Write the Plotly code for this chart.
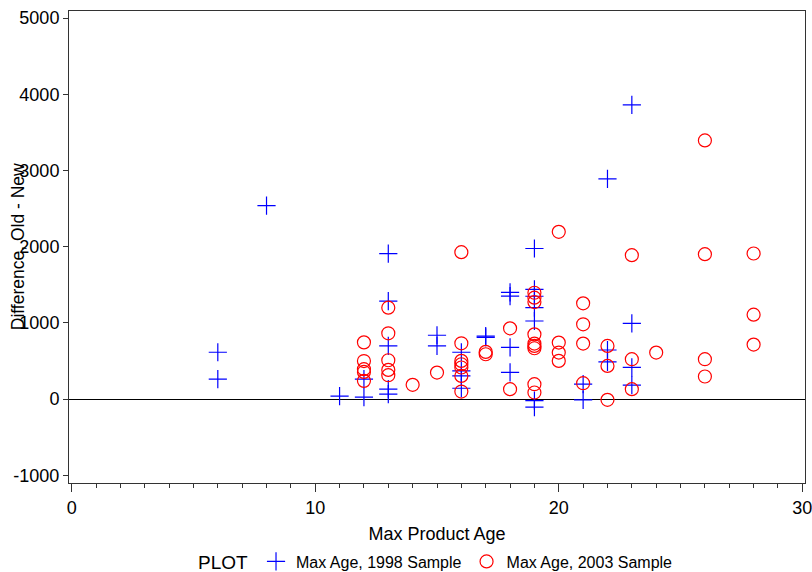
import plotly.graph_objects as go

# 1998 sample (blue plus)
age_1998 = [6, 6, 8, 11, 12, 12, 13, 13, 13, 13, 13, 15, 15, 16, 16, 16, 16,
            17, 17, 18, 18, 18, 18, 19, 19, 19, 19, 19, 19, 19, 21, 21,
            22, 22, 22, 23, 23, 23, 23]
diff_1998 = [615, 262, 2540, 40, 262, 26, 1910, 1287, 698, 131, 65, 838, 698, 615, 370, 305, 143,
             828, 810, 1400, 1352, 680, 350, 1976, 1440, 1350, 1200, 1025, -20, -105, 196, -10,
             2890, 645, 488, 3860, 993, 418, 183]

# 2003 sample (red circles)
age_2003 = [12, 12, 12, 12, 12, 13, 13, 13, 13, 13, 14, 15,
            16, 16, 16, 16, 16, 16, 16, 17, 17, 18, 18,
            19, 19, 19, 19, 19, 19, 19, 19, 19,
            20, 20, 20, 20, 21, 21, 21, 21, 22, 22, 22,
            23, 23, 23, 24, 26, 26, 26, 26, 28, 28, 28]
diff_2003 = [745, 500, 393, 357, 240, 1200, 864, 510, 384, 314, 188, 349,
             1928, 733, 502, 458, 415, 305, 100, 620, 589, 929, 131,
             1396, 1331, 1274, 850, 729, 698, 668, 196, 87,
             2195, 742, 611, 502, 1257, 982, 729, 209, 698, 436, -9,
             1889, 524, 131, 611, 3394, 1902, 524, 297, 1911, 1108, 716]

x_ticks = [0, 10, 20, 30]
y_ticks = [-1000, 0, 1000, 2000, 3000, 4000, 5000]
y_tick_labels = ["-1000", "0", "1000", "2000", "3000", "4000", "5000"]

FONT = "Liberation Sans, Arial, sans-serif"

W, H = 812, 572

fig = go.Figure()
fig.add_trace(go.Scatter(
    x=age_1998, y=diff_1998, mode="markers", name="Max Age, 1998 Sample",
    marker=dict(symbol="cross-thin-open", size=13, color="blue",
                line=dict(color="blue", width=1.2)),
))
fig.add_trace(go.Scatter(
    x=age_2003, y=diff_2003, mode="markers", name="Max Age, 2003 Sample",
    marker=dict(symbol="circle-open", size=13, color="red",
                line=dict(color="red", width=1.2)),
))

fig.update_layout(
    width=W, height=H,
    margin=dict(l=69, r=7, t=11, b=89, autoexpand=False),
    paper_bgcolor="white", plot_bgcolor="white",
    font=dict(family=FONT, size=16, color="black"),
    showlegend=True,
    legend=dict(orientation="h", x=0.5, xanchor="center",
                yref="container", y=10 / H, yanchor="middle",
                title=dict(text="PLOT", side="left"),
                font=dict(size=16), itemwidth=30, tracegroupgap=0,
                bgcolor="rgba(0,0,0,0)"),
    annotations=[dict(text="Difference, Old - New", textangle=-90,
                      xref="paper", yref="paper", x=-0.069, y=0.5,
                      xanchor="center", yanchor="middle", showarrow=False,
                      font=dict(size=17.5))],
)
fig.update_xaxes(
    range=[-0.11, 30.11], tickvals=x_ticks, ticks="outside", ticklen=8, tickwidth=1,
    tickcolor="#333", showline=True, linecolor="#333", linewidth=1, mirror=True,
    showgrid=False, zeroline=False, automargin=False, ticklabeloverflow="allow",
    minor=dict(dtick=1, tick0=0, ticks="outside", ticklen=4, tickcolor="#333", showgrid=False),
    title=dict(text="Max Product Age", standoff=19, font=dict(size=18)),
    tickfont=dict(size=18),
)
fig.update_yaxes(
    range=[-1100, 5092], tickvals=y_ticks, ticktext=y_tick_labels,
    ticks="outside", ticklen=5, tickwidth=1,
    tickcolor="#333", showline=True, linecolor="#333", linewidth=1, mirror=True,
    showgrid=False, zeroline=True, zerolinecolor="black", zerolinewidth=1,
    automargin=False, ticklabeloverflow="allow",
    tickfont=dict(size=18), ticklabelstandoff=0,
)

fig.write_html(
    "out.html",
    config={"displayModeBar": False},
    post_script="document.body.style.margin='0';document.body.style.overflow='hidden';",
)
